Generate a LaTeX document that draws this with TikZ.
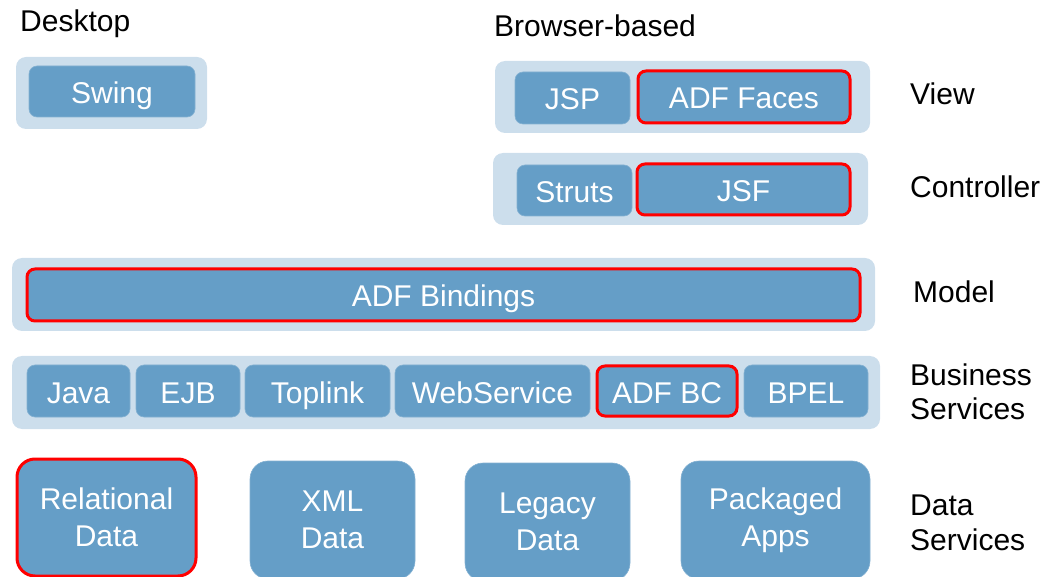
\documentclass[tikz,border=0pt]{standalone}
\usepackage{fontspec}
\setmainfont{Liberation Sans}
\definecolor{bandblue}{HTML}{CCDEEC}
\definecolor{boxblue}{HTML}{659EC7}
\definecolor{hired}{HTML}{FF0000}
\tikzset{
	band/.style={fill=bandblue, rounded corners=10pt, anchor=north west, inner sep=0pt, outer sep=0pt},
	comp/.style={fill=boxblue, draw=boxblue!80!white, line width=0.6pt, rounded corners=8pt, text=white, font=\fontsize{30}{37}\selectfont, anchor=north west, inner sep=0pt, outer sep=0pt},
	oneline/.style={text height=25pt, text depth=1pt},
	chosen/.style={draw=hired, line width=3pt},
	layer/.style={anchor=base west, font=\fontsize{30}{35}\selectfont, align=left, inner sep=0pt}
}
\begin{document}
\begin{tikzpicture}[x=1pt,y=-1pt]
\useasboundingbox (0,0) rectangle (1050,577);
\clip (0,0) rectangle (1050,577);

\node[layer] (desktop) at (20,32) {Desktop};
\node[layer] (browser) at (494,37) {Browser-based};

% view
\node[band, minimum width=191pt, minimum height=72pt] (deskband) at (16,57) {};
\node[comp, oneline, minimum width=166pt, minimum height=51pt] (swing) at (29,66) {Swing};

\node[band, minimum width=375pt, minimum height=72pt] (viewband) at (495,61) {};
\node[comp, oneline, minimum width=115pt, minimum height=52pt] (jsp) at (515,72) {JSP};
\node[comp, oneline, chosen, minimum width=212pt, minimum height=52pt] (faces) at (638,71) {ADF Faces};

% controller
\node[band, minimum width=375pt, minimum height=72pt] (ctrlband) at (493,153) {};
\node[comp, oneline, minimum width=115pt, minimum height=51pt] (struts) at (517,165) {Struts};
\node[comp, oneline, chosen, minimum width=213pt, minimum height=51pt] (jsf) at (637,164) {JSF};

% model
\node[band, minimum width=863pt, minimum height=73pt] (modelband) at (12,258) {};
\node[comp, oneline, chosen, minimum width=833pt, minimum height=52pt] (bindings) at (27,269) {ADF Bindings};

% business services
\node[band, minimum width=868pt, minimum height=73pt] (bizband) at (12,356) {};
\node[comp, oneline, minimum width=103pt, minimum height=52pt] (java) at (27,365) {Java};
\node[comp, oneline, minimum width=104pt, minimum height=52pt] (ejb) at (136,365) {EJB};
\node[comp, oneline, minimum width=145pt, minimum height=52pt] (toplink) at (245,365) {Toplink};
\node[comp, oneline, minimum width=195pt, minimum height=52pt] (websvc) at (395,365) {WebService};
\node[comp, oneline, chosen, minimum width=140pt, minimum height=50pt] (adfbc) at (597,366) {ADF BC};
\node[comp, oneline, minimum width=124pt, minimum height=52pt] (bpel) at (744,365) {BPEL};

% data services
\node[comp, chosen, rounded corners=18pt, minimum width=179pt, minimum height=117pt, align=center] (relational) at (17,459) {Relational\\Data};
\node[comp, rounded corners=18pt, minimum width=165pt, minimum height=118pt, align=center] (xml) at (250,461) {XML\\Data};
\node[comp, rounded corners=18pt, minimum width=165pt, minimum height=118pt, align=center] (legacy) at (465,463) {Legacy\\Data};
\node[comp, rounded corners=18pt, minimum width=189pt, minimum height=118pt, align=center] (packaged) at (681,461) {Packaged\\Apps};

% layer names
\node[layer] (view) at (910,105) {View};
\node[layer] (controller) at (910,198) {Controller};
\node[layer] (model) at (913,303) {Model};
\node[layer] (business) at (910,420) {Business\\Services};
\node[layer] (data) at (910,550) {Data\\Services};
\end{tikzpicture}
\end{document}
